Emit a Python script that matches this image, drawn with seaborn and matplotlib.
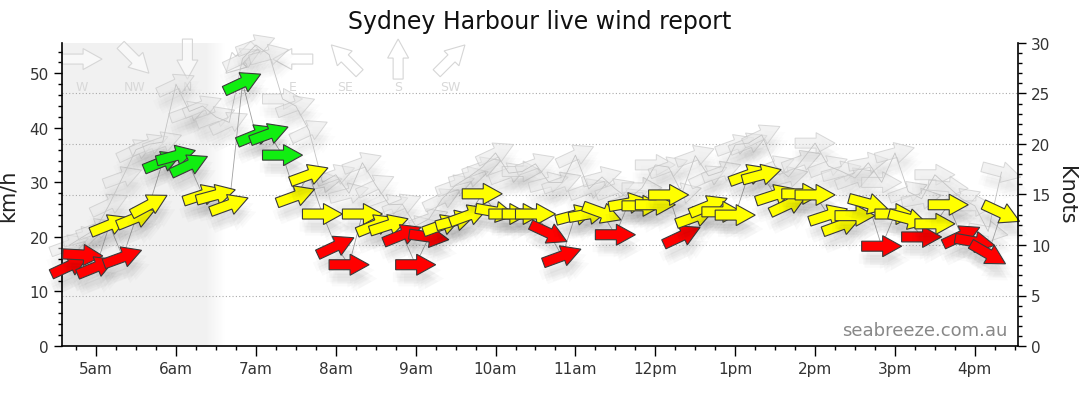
import numpy as np
import pandas as pd
import matplotlib
matplotlib.use('Agg')
import matplotlib.pyplot as plt
import matplotlib.transforms as mtransforms
import matplotlib.patheffects as pe
from matplotlib.patches import Polygon
from matplotlib.ticker import MultipleLocator
from matplotlib.colors import LinearSegmentedColormap
import seaborn as sns

# 10 minute observations, 4:40am to 4:20pm
times = pd.date_range('2024-01-01 04:40', '2024-01-01 16:20', freq='10min')

# average wind (km/h) and direction it blows from (degrees)
speed_kmh = [14.7, 16.7,
             14.5, 22.2, 16.3, 23.5, 25.9, 33.8,
             34.9, 33.2, 27.7, 27.7, 25.9, 48.3,
             38.7, 38.9, 35.0, 27.5, 31.4, 24.2,
             18.3, 14.9, 24.2, 22.2, 22.2, 20.4,
             14.9, 20.0, 22.2, 23.0, 24.0, 27.9,
             24.6, 24.2, 24.2, 24.2, 20.7, 16.5,
             24.0, 24.2, 24.4, 20.4, 26.2, 25.7,
             25.9, 27.7, 20.2, 23.7, 25.7, 24.6,
             24.0, 31.4, 31.4, 27.7, 26.0, 27.9,
             27.7, 24.0, 22.2, 23.9, 26.1, 18.3,
             24.2, 23.3, 20.0, 22.4, 25.9, 20.2,
             19.1, 16.9, 24.4]
direction = [245, 273,
             248, 248, 250, 248, 242, 248,
             255, 245, 252, 255, 250, 245,
             248, 250, 270, 250, 250, 270,
             245, 270, 270, 248, 252, 248,
             270, 278, 250, 255, 250, 270,
             280, 270, 270, 270, 295, 250,
             255, 260, 290, 270, 260, 270,
             270, 270, 245, 250, 248, 270,
             270, 250, 255, 252, 245, 270,
             270, 252, 250, 270, 285, 270,
             270, 285, 270, 270, 270, 245,
             280, 300, 295]

# gusts (km/h) and their direction
gust_kmh = [18.5, 20.0,
            21.5, 26.0, 31.0, 36.0, 37.0, 37.4,
            48.0, 43.0, 44.0, 42.0, 41.0, 52.7,
            55.2, 53.4, 45.3, 44.0, 39.5, 30.0,
            31.4, 28.0, 33.6, 29.5, 25.9, 26.0,
            22.0, 23.3, 27.0, 29.5, 31.0, 32.8,
            35.4, 31.7, 32.0, 33.4, 30.0, 30.0,
            35.0, 28.8, 31.0, 28.8, 27.0, 29.0,
            33.2, 32.8, 28.0, 34.9, 31.2, 32.0,
            36.9, 37.2, 38.7, 33.0, 31.0, 34.0,
            37.2, 33.0, 32.0, 30.8, 33.6, 30.0,
            35.4, 28.3, 27.0, 31.4, 29.2, 27.0,
            25.7, 21.0, 31.9]
gust_dir = [250, 255,
            250, 245, 250, 245, 248, 250,
            245, 250, 248, 250, 245, 245,
            250, 255, 270, 250, 245, 260,
            250, 255, 250, 245, 250, 248,
            255, 250, 245, 250, 255, 250,
            245, 250, 270, 250, 255, 250,
            245, 250, 255, 250, 248, 270,
            270, 250, 255, 250, 245, 250,
            250, 248, 245, 250, 255, 250,
            270, 250, 255, 250, 260, 270,
            255, 250, 260, 270, 275, 250,
            270, 280, 285]

compass_labels = ['W', 'NW', 'N', 'NE', 'E', 'SE', 'S', 'SW']
compass_deg = [270, 315, 0, 45, 90, 135, 180, 225]
hour_labels = ['5am', '6am', '7am', '8am', '9am', '10am', '11am',
               '12pm', '1pm', '2pm', '3pm', '4pm']

KNOT = 1.852
hours = times.hour + times.minute / 60

sns.set_theme(style='ticks')
plt.rcParams['font.family'] = ['DejaVu Sans']

fig = plt.figure(figsize=(10.8, 4.14), dpi=100)
ax = fig.add_axes([62 / 1080, 1 - 347 / 414, 956 / 1080, 303 / 414])
ax2 = ax.twinx()

x_min, x_max = 4.573, 16.54
ax.set_xlim(x_min, x_max)
ax.set_ylim(0, 30 * KNOT)
ax2.set_ylim(0, 30)
ax.set_autoscale_on(False)

# night shading with soft edge
ax.axvspan(x_min, 6.36, color='#f1f1f1', lw=0, zorder=0)
fade = LinearSegmentedColormap.from_list('fade', ['#f1f1f1', '#ffffff'])
ax.imshow(np.linspace(0, 1, 64).reshape(1, -1), extent=[6.36, 6.6, 0, 30 * KNOT],
          aspect='auto', cmap=fade, zorder=0)
ax.set_xlim(x_min, x_max)
ax.set_ylim(0, 30 * KNOT)

# dotted grid at knot levels
for k in [5, 10, 15, 20, 25]:
    ax.axhline(k * KNOT, color='#aaaaaa', lw=0.8, ls=(0, (1, 2)), zorder=1)

ARROW = np.array([[-20, -5], [1, -5], [1, -10.5], [20, 0],
                  [1, 10.5], [1, 5], [-20, 5]])
SHADOW_OFFSETS = [(0, -6), (3, -8), (6, -10), (2, -12), (-2, -9), (4, -4), (1, -10)]


def speed_colour(v):
    if v < 21:
        return '#ff0000'
    if v < 32.5:
        return '#ffff00'
    return '#11ee11'


def add_arrow(x, y, deg_from, face, edge, lw, base, z, shadow=0.0):
    tr = (mtransforms.Affine2D().rotate_deg(270 - deg_from)
          + mtransforms.ScaledTranslation(x, y, base))
    p = Polygon(ARROW, closed=True, transform=tr, facecolor=face,
                edgecolor=edge, lw=lw, clip_on=False, zorder=z)
    if shadow:
        p.set_path_effects([pe.SimplePatchShadow(offset=o, shadow_rgbFace='k', alpha=shadow)
                            for o in SHADOW_OFFSETS] + [pe.Normal()])
    ax.add_patch(p)


# compass key
for i, (lab, d) in enumerate(zip(compass_labels, compass_deg)):
    xf = 0.021 + i * 0.0551
    add_arrow(xf, 0.947, d, (1, 1, 1, 0.5), '#d6d6d6', 0.8, ax.transAxes, 1.5)
    ax.text(xf, 0.858, lab, transform=ax.transAxes, ha='center', va='center',
            color='#d8d8d8', fontsize=9, zorder=1.5)

# gust arrows
for x, g, d in zip(hours, gust_kmh, gust_dir):
    add_arrow(x, g, d, (0.9, 0.9, 0.9, 0.5), (0.76, 0.76, 0.76, 0.6), 0.7,
              ax.transData, 2, shadow=0.012)

# connecting lines
sns.lineplot(x=hours, y=gust_kmh, ax=ax, color='#c4c4c4', lw=0.6, zorder=2.5)
sns.lineplot(x=hours, y=speed_kmh, ax=ax, color='#a0a0a0', lw=0.6, zorder=2.6)

# average wind arrows
for x, v, d in zip(hours, speed_kmh, direction):
    add_arrow(x, v, d, speed_colour(v), '#3a3a3a', 0.8, ax.transData, 3, shadow=0.02)

# axes and ticks
ax.set_xticks(range(5, 17))
ax.set_xticklabels(hour_labels)
ax.xaxis.set_minor_locator(MultipleLocator(0.25))
ax.set_yticks(range(0, 51, 10))
ax.yaxis.set_minor_locator(MultipleLocator(2))
ax2.set_yticks(range(0, 31, 5))
ax2.yaxis.set_minor_locator(MultipleLocator(1))

for a in (ax, ax2):
    a.tick_params(which='major', direction='out', length=6, width=1,
                  color='black', labelsize=11, labelcolor='#333333')
    a.tick_params(which='minor', direction='out', length=3, width=1, color='black')
    a.spines['top'].set_visible(False)
    for s in a.spines.values():
        s.set_color('black')
        s.set_linewidth(1.2)
ax.tick_params(axis='x', which='major', length=7, pad=4)
ax.spines['right'].set_visible(False)
ax2.spines['left'].set_visible(False)
ax2.spines['bottom'].set_visible(False)
ax.grid(False)
ax2.grid(False)

ax.set_xlabel('')
ax.set_ylabel('km/h', fontsize=15, color='#222222')
ax.yaxis.set_label_coords(-0.046, 0.5)
ax2.set_ylabel('Knots', fontsize=15, color='#222222', rotation=270, va='center')
ax2.yaxis.set_label_coords(1.05, 0.5)

ax.text(0.989, 0.035, 'seabreeze.com.au', transform=ax.transAxes, ha='right',
        va='baseline', color='#888888', fontsize=13, zorder=5)
fig.text(0.5, 0.947, 'Sydney Harbour live wind report', ha='center', va='center',
         fontsize=17, color='#111111')

fig.savefig('out.png', dpi=100)
